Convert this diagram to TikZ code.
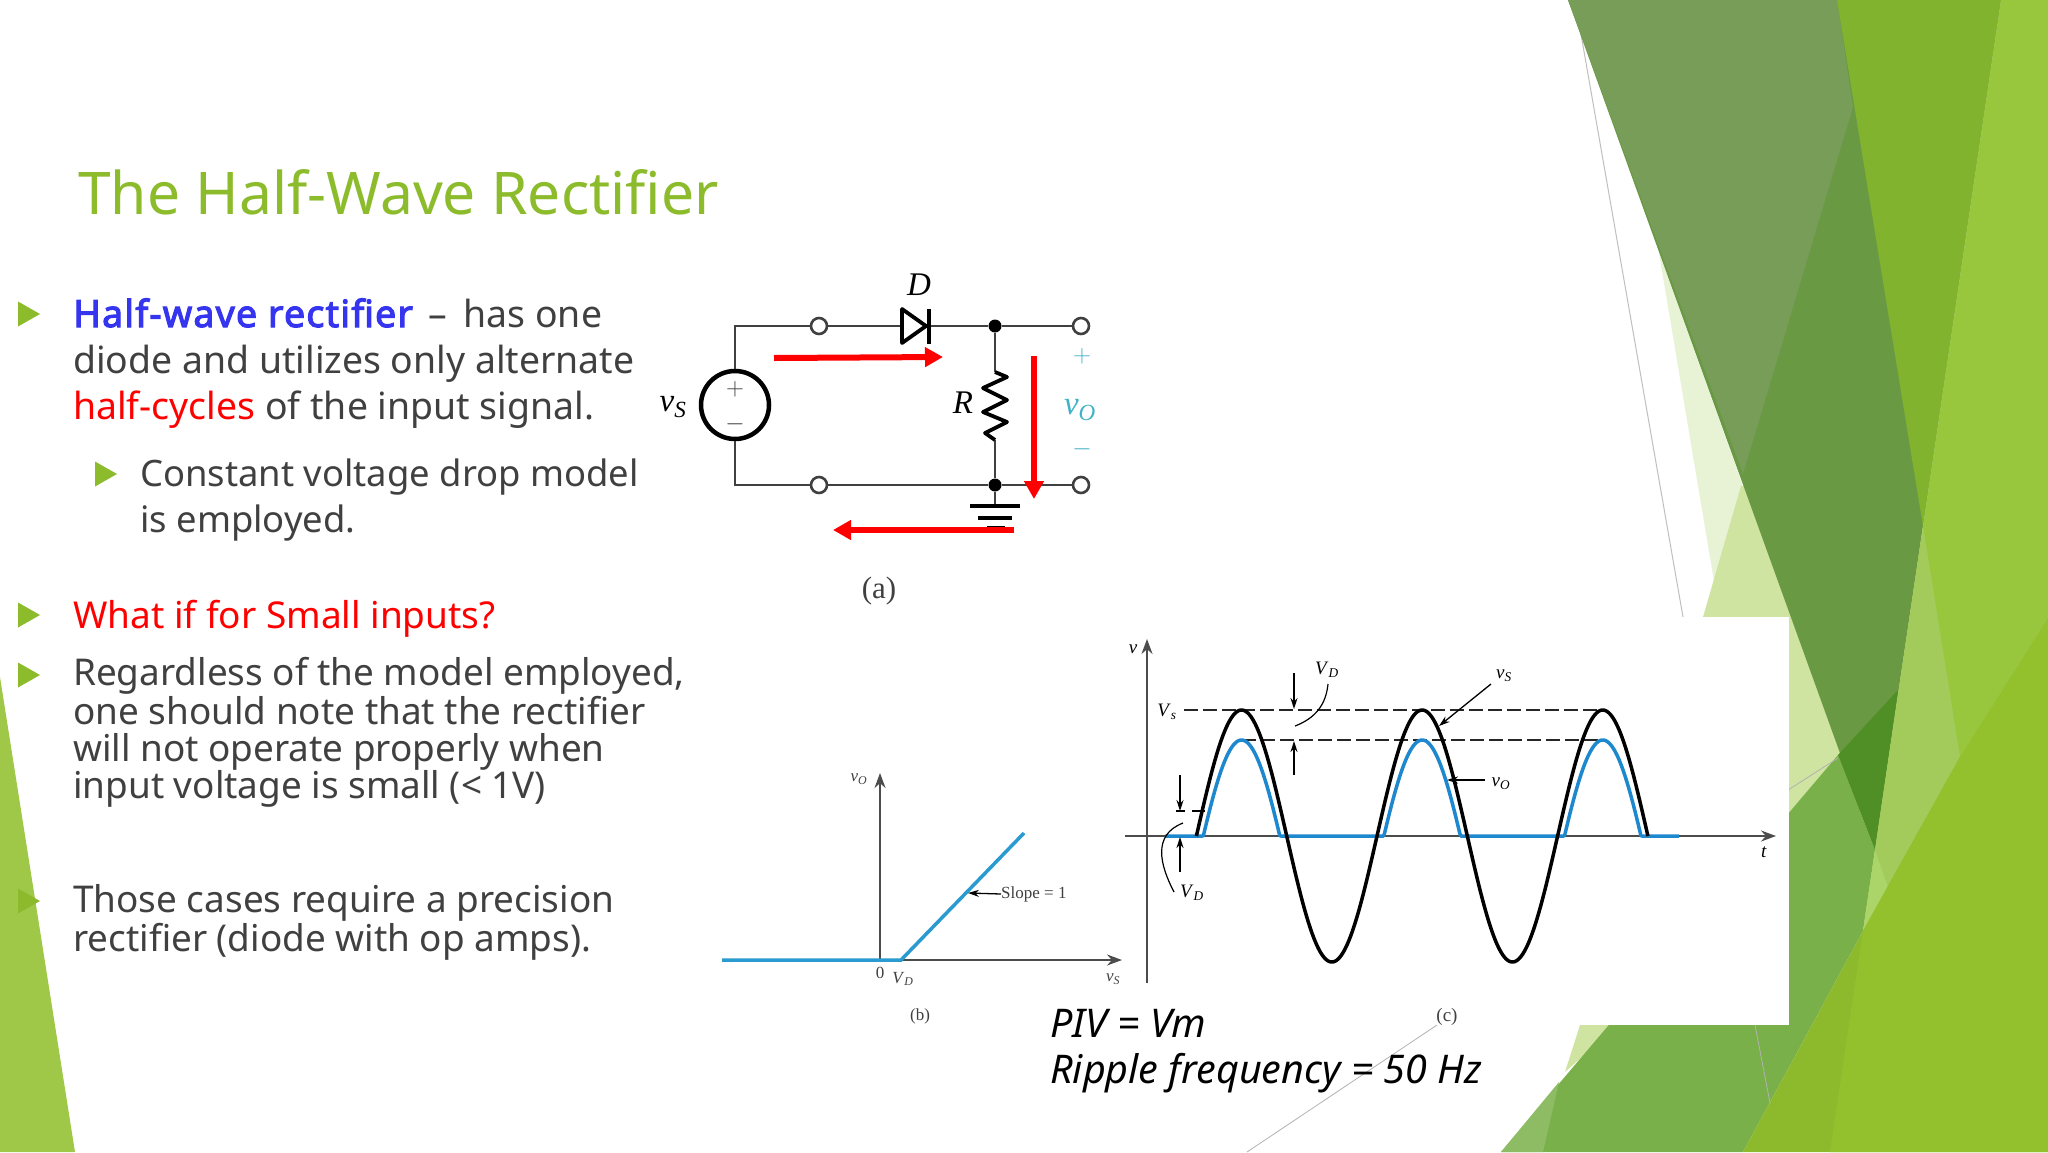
\documentclass[tikz,border=0pt]{standalone}
\usepackage{fontspec}
\usepackage{xcolor}
\setmainfont{Noto Sans}
\newfontfamily\headbold{Noto Sans}[FakeBold=3,LetterSpace=3.4]
\newfontfamily\figfont{Liberation Serif}
\usetikzlibrary{arrows,arrows.meta,calc,positioning}
\definecolor{lime}{HTML}{8CBB2C}
\definecolor{bodygray}{HTML}{404040}
\definecolor{headblue}{HTML}{3535F0}
\definecolor{plotblue}{HTML}{2A9BD0}
\definecolor{waveblue}{HTML}{1E88CF}
\definecolor{teal}{HTML}{3FB2C5}
\definecolor{wedge}{HTML}{A0C848}
\definecolor{pale}{HTML}{E8F2D5}
\definecolor{soft}{HTML}{CFE4A0}
\definecolor{greygreen}{HTML}{779D58}
\definecolor{darkleaf}{HTML}{6A9944}
\definecolor{midleaf}{HTML}{82B32E}
\definecolor{toplime}{HTML}{98C73D}
\definecolor{lowlime}{HTML}{8CBA2C}
\definecolor{rightlime}{HTML}{93C12E}
\definecolor{glass}{HTML}{A3CB5C}
\definecolor{glint}{HTML}{ABD568}
\definecolor{lowleaf}{HTML}{7AB04A}
\definecolor{deepleaf}{HTML}{508F25}
\tikzset{%
  bodytext/.style={anchor=base west,align=left,inner sep=0pt,text=bodygray,font=\fontsize{37.4}{46}\selectfont},
  tighttext/.style={bodytext,font=\fontsize{36.9}{37}\selectfont},
  wire/.style={draw=black!75,line width=2.6pt},
  terminal/.style={circle,draw=black!75,fill=white,line width=2.6pt,minimum size=16pt,inner sep=0pt},
  junction/.style={circle,fill=black,minimum size=13pt,inner sep=0pt},
  redarrow/.style={draw=red,line width=6pt,-{Triangle[length=18pt,width=19pt]}},
  thinarrow/.style={line width=1.3pt,-{Stealth[length=11pt,width=7pt]}},
  axisline/.style={black!70,line width=1.8pt,-{Stealth[length=15pt,width=11pt]}},
  tag/.style={inner sep=0pt,font=\figfont\fontsize{17}{20}\selectfont},
  ctag/.style={tag,font=\figfont\fontsize{19}{20}\selectfont},
  bigtag/.style={inner sep=0pt,font=\figfont\fontsize{33}{36}\selectfont},
  edgeline/.style={black!30,line width=0.8pt},
}
\begin{document}
\begin{tikzpicture}[x=1pt,y=-1pt]
  \useasboundingbox (0,0) rectangle (2048,1152);
  \fill[white] (0,0) rectangle (2048,1152);
  % background
  \fill[wedge] (0,677) -- (75,1152) -- (0,1152) -- cycle;
  \fill[pale] (1659,253) -- (1790,617) -- (1720,617) -- cycle;
  \fill[soft] (1703,617) -- (1741,486) -- (1770,486) -- (1880,790) -- (1565,1072) -- (1580,1025) -- cycle;
  \draw[black!25,line width=1pt] (1575,0) -- (1683,617);
  \fill[darkleaf] (1568,0) -- (1837,0) -- (2001,0) -- (1875,850) -- cycle;
  \fill[greygreen] (1568,0) -- (1837,0) -- (1853,107) -- (1743,474) -- cycle;
  \fill[midleaf] (1837,0) -- (2001,0) -- (1923,526) -- cycle;
  \fill[lowleaf] (1838,755) -- (1875,850) -- (1863,931) -- (1743,1152) -- (1501,1152) -- cycle;
  \fill[lowleaf!85!white] (1501,1152) -- (1543,1152) -- (1559,1082) -- cycle;
  \fill[deepleaf] (1838,755) -- (1898,690) -- (1875,850) -- cycle;
  \fill[toplime] (2001,0) -- (2048,0) -- (2048,618) -- (1960,757) -- (1863,931) -- cycle;
  \fill[glass] (1923,526) -- (1960,757) -- (1888,887) -- (1875,850) -- cycle;
  \fill[glint] (1875,850) -- (1888,887) -- (1863,931) -- cycle;
  \fill[lowlime] (2048,618) -- (1960,757) -- (1863,931) -- (1743,1152) -- (2048,1152) -- cycle;
  \fill[rightlime] (2048,618) -- (1960,757) -- (1863,931) -- (1830,1152) -- (2048,1152) -- cycle;
  \draw[black!30,line width=0.8pt] (1755,1025) -- (1770,1103);
  \draw[edgeline] (1788,790) -- (1838,758);
  \fill[white] (1100,617) rectangle (1789,1025);
  \draw[edgeline] (1437,1025) -- (1247,1152);
  % bullets
  \foreach \bx/\by/\bc in {18/314/lime,18/615/lime,18/675/lime,95/474/lime,18/901/lowlime}
    \fill[\bc] (\bx,\by-12.5) -- (\bx+22,\by) -- (\bx,\by+12.5) -- cycle;
  % text
  \node[anchor=base west,inner sep=0pt,text=lime,font=\fontsize{58.8}{60}\selectfont] (title) at (78,214) {The Half-Wave Rectifier};
  \node[bodytext] (intro) at (73,419) {\textcolor{headblue}{\headbold Half-wave rectifier} \,–\, has one\\diode and utilizes only alternate\\\textcolor{red}{half-cycles} of the input signal.};
  \node[bodytext,font=\fontsize{36.4}{46}\selectfont] (model) at (140,532) {Constant voltage drop model\\is employed.};
  \node[bodytext,text=red,font=\fontsize{37}{46}\selectfont] (small) at (73,628) {What if for Small inputs?};
  \node[tighttext] (regard) at (73,798) {Regardless of the model employed,\\one should note that the rectifier\\will not operate properly when\\input voltage is small (< 1V)};
  \node[tighttext] (cases) at (73,951) {Those cases require a precision\\rectifier (diode with op amps).};
  \node[bodytext,text=black,font=\itshape\fontsize{39.5}{46}\selectfont] (piv) at (1050,1083) {PIV = Vm\\Ripple frequency = 50 Hz};
  % circuit (a)
  \node[circle,draw=black,line width=4.5pt,minimum size=68pt,inner sep=0pt] (src) at (735,405) {};
  \node[terminal] (tl) at (819,326) {};
  \node[terminal] (tr) at (1081,326) {};
  \node[terminal] (bl) at (819,485) {};
  \node[terminal] (br) at (1081,485) {};
  \node[junction] (jt) at (995,326) {};
  \node[junction] (jb) at (995,485) {};
  \coordinate (dia) at (902,326);
  \coordinate (dik) at (929,326);
  \coordinate (rtop) at (995,372);
  \coordinate (rbot) at (995,440);
  \coordinate (gnd) at (995,506);
  \draw[wire] (src.north) |- (tl);
  \draw[wire] (src.south) |- (bl);
  \draw[wire] (tl) -- (dia);
  \draw[wire] (dik) -- (jt);
  \draw[wire] (jt) -- (tr);
  \draw[wire] (bl) -- (jb);
  \draw[wire] (jb) -- (br);
  \draw[wire] (jt) -- (rtop);
  \draw[wire] (rbot) -- (jb);
  \draw[wire] (jb) -- (gnd);
  \draw[black,line width=3.8pt,line join=round] (902,309) -- (926,326) -- (902,343) -- cycle;
  \draw[black,line width=4.5pt] (929,309) -- (929,344);
  \draw[black,line width=3.8pt,line join=round] (rtop) -- (1007,377) -- (983,388) -- (1007,400) -- (983,412) -- (1007,422) -- (985,433) -- (rbot);
  \draw[black,line width=4pt] (970,506) -- (1020,506);
  \draw[black,line width=4pt] (978,518) -- (1012,518);
  \draw[black,line width=3pt] (987,527) -- (1005,527);
  \node[inner sep=0pt,font=\fontsize{24}{24}\selectfont,text=bodygray] (srcplus) at (735,389) {$+$};
  \node[inner sep=0pt,font=\fontsize{24}{24}\selectfont,text=bodygray] (srcminus) at (735,424) {$-$};
  \node[inner sep=0pt,font=\fontsize{28}{28}\selectfont,text=teal] (oplus) at (1082,356) {$+$};
  \node[inner sep=0pt,font=\fontsize{28}{28}\selectfont,text=teal] (ominus) at (1082,449) {$-$};
  \coordinate (cura) at (774,358);
  \coordinate (curb) at (943,357);
  \coordinate (curc) at (1034,356);
  \coordinate (curd) at (1034,499);
  \coordinate (cure) at (1014,530);
  \coordinate (curf) at (833,530);
  \draw[redarrow] (cura) -- (curb);
  \draw[redarrow] (curc) -- (curd);
  \draw[redarrow] (cure) -- (curf);
  \node[bigtag] (dlabel) at (919,285) {\textit{D}};
  \node[bigtag] (vslabel) at (673,407) {\textit{v}\textsubscript{\textit{S}}};
  \node[bigtag] (rlabel) at (963,403) {\textit{R}};
  \node[bigtag,text=teal] (volabel) at (1080,410) {\textit{v}\textsubscript{\textit{O}}};
  \node[bigtag,font=\figfont\fontsize{31}{31}\selectfont,text=bodygray] (acap) at (879,591) {(a)};
  % plot (b)
  \coordinate (orgb) at (880,960);
  \coordinate (bup) at (880,773);
  \coordinate (bright) at (1122,960);
  \coordinate (bleft) at (722,960);
  \coordinate (bknee) at (901,960);
  \coordinate (bend) at (1024,833);
  \coordinate (btip) at (968,893);
  \draw[axisline] (orgb) -- (bup);
  \draw[axisline] (orgb) -- (bright);
  \draw[plotblue,line width=3.5pt] (bleft) -- (bknee) -- (bend);
  \node[tag,text=bodygray] (bvo) at (859,779) {\textit{v}\textsubscript{\textit{O}}};
  \node[tag,text=bodygray] (bzero) at (880,973) {0};
  \node[tag,text=bodygray] (bvd) at (903,979) {\textit{V}\textsubscript{\textit{D}}};
  \node[tag,text=bodygray] (bvs) at (1113,979) {\textit{v}\textsubscript{\textit{S}}};
  \node[tag,text=bodygray] (bcap) at (920,1016) {(b)};
  \node[tag,text=bodygray,anchor=west] (slope) at (1001,894) {Slope = 1};
  \draw[thinarrow] (slope.west) -- (btip);
  % plot (c)
  \coordinate (orgc) at (1147,983);
  \coordinate (cup) at (1147,639);
  \coordinate (tleft) at (1125,836);
  \coordinate (tright) at (1776,836);
  \draw[axisline] (orgc) -- (cup);
  \draw[axisline] (tleft) -- (tright);
  \draw[black!85,line width=1.6pt,dash pattern=on 14pt off 5pt] (1184,710) -- (1604,710);
  \draw[black!85,line width=1.6pt,dash pattern=on 14pt off 5pt] (1242,740) -- (1604,740);
  \draw[waveblue,line width=3.5pt,line join=round] plot[domain=-62:962,samples=500] ({1196.4+\x/360*180.6},{836-max(126*sin(\x)-30,0)});
  \draw[black,line width=3.5pt,line join=round] plot[domain=0:900,samples=300] ({1196.4+\x/360*180.6},{836-126*sin(\x)});
  \node[ctag] (cv) at (1133,649) {\textit{v}};
  \node[ctag] (cvm) at (1167,712) {\textit{V}\textsubscript{\textit{s}}};
  \node[ctag] (cvd) at (1327,670) {\textit{V}\textsubscript{\textit{D}}};
  \node[ctag] (cvs) at (1504,676) {\textit{v}\textsubscript{\textit{S}}};
  \node[ctag] (cvo) at (1501,784) {\textit{v}\textsubscript{\textit{O}}};
  \node[ctag] (cvd2) at (1192,893) {\textit{V}\textsubscript{\textit{D}}};
  \node[ctag] (ct) at (1764,852) {\textit{t}};
  \node[ctag,text=bodygray] (ccap) at (1447,1017) {(c)};
  \coordinate (gapa) at (1294,673);
  \coordinate (gapb) at (1294,709);
  \coordinate (gapc) at (1294,775);
  \coordinate (gapd) at (1294,741);
  \coordinate (lowa) at (1180,775);
  \coordinate (lowb) at (1180,811);
  \coordinate (lowc) at (1180,872);
  \coordinate (lowd) at (1180,837);
  \coordinate (vstip) at (1439,726);
  \coordinate (votip) at (1447,780);
  \draw[thinarrow] (gapa) -- (gapb);
  \draw[thinarrow] (gapc) -- (gapd);
  \draw[thinarrow] (lowa) -- (lowb);
  \draw[thinarrow] (lowc) -- (lowd);
  \draw[thinarrow] (1491,684) -- (vstip);
  \draw[thinarrow] (1485,780) -- (votip);
  \draw[line width=1.2pt] (1176,811) -- (1185,811);
  \draw[line width=1.2pt] (1192,811) -- (1205,811);
  \draw[line width=1.2pt] (1295,726) .. controls (1316,718) and (1326,704) .. (1328,684);
  \draw[line width=1.2pt] (1183,823) .. controls (1152,835) and (1160,865) .. (1174,892);
\end{tikzpicture}
\end{document}
